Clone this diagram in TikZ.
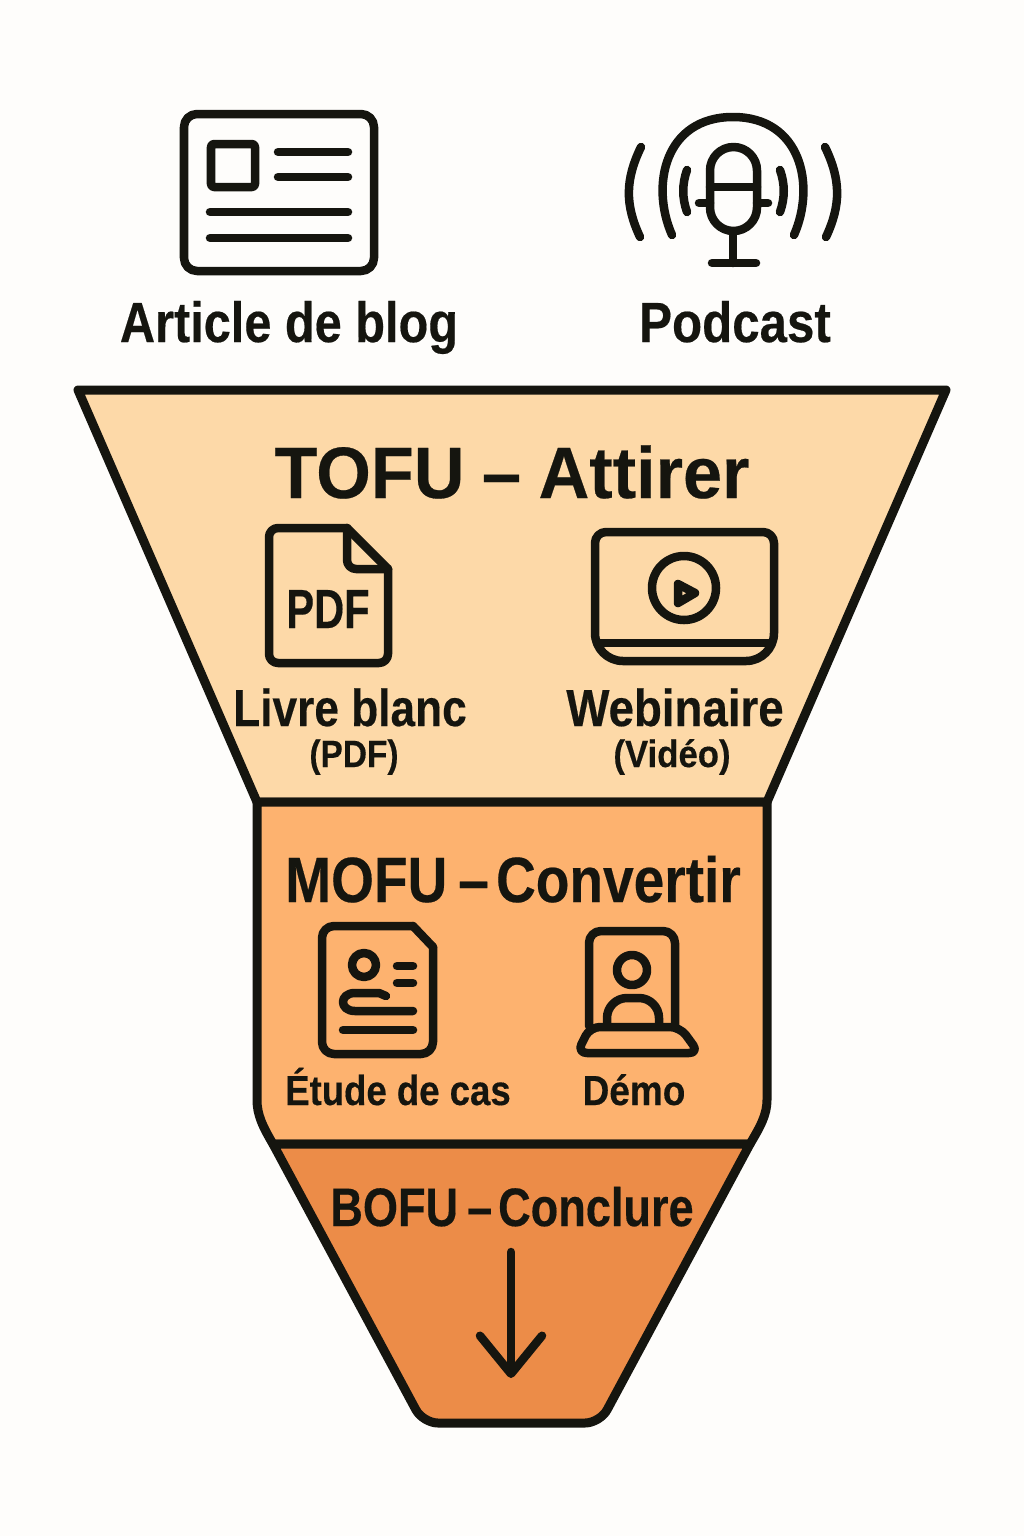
\documentclass[tikz,border=0pt]{standalone}
\usepackage{fontspec}
\setmainfont{Liberation Sans}[BoldFeatures={FakeBold=0.35}]
\usetikzlibrary{arrows.meta}
\definecolor{paper}{HTML}{FEFDFB}
\definecolor{ink}{HTML}{15150F}
\definecolor{tofucol}{HTML}{FDD9A8}
\definecolor{mofucol}{HTML}{FDB26F}
\definecolor{bofucol}{HTML}{EC8C48}
\tikzset{
  funnel/.style={draw=ink,line width=.09cm,line join=round},
  icon/.style={draw=ink,line width=.085cm,line cap=round,line join=round},
  lbl/.style 2 args={text=ink,inner sep=0pt,anchor=base,xscale=#2,
    font=\fontsize{#1}{#1}\selectfont\bfseries},
}
\begin{document}
\begin{tikzpicture}[x=.01cm,y=-.01cm]
\useasboundingbox (0,0) rectangle (1024,1536);
\fill[paper] (0,0) rectangle (1024,1536);

% Funnel, from top to bottom
\path[funnel,fill=tofucol] (78,390) -- (946,390) -- (767,802) -- (257,802) -- cycle;
\path[funnel,fill=mofucol] (257,802) -- (767,802) -- (767,1100)
  .. controls (767,1115) and (760,1127) .. (750,1144) -- (273,1144)
  .. controls (263,1127) and (257,1115) .. (257,1100) -- cycle;
\path[funnel,fill=bofucol] (273,1144) -- (750,1144) [rounded corners=.15cm] -- (600,1423)
  -- (423,1423) [sharp corners] -- cycle;

% Article icon
\draw[icon,rounded corners=.13cm] (184,114) rectangle (374,271);
\draw[icon,rounded corners=.03cm] (211,144) rectangle (255,187);
\draw[icon] (278,152) -- (348,152);
\draw[icon] (278,177) -- (348,177);
\draw[icon] (210,212) -- (348,212);
\draw[icon] (210,238) -- (348,238);

% Podcast icon
\draw[icon,rounded corners=.235cm] (710,147) rectangle (757,231);
\draw[icon] (710,187) -- (757,187);
\draw[icon] (699,203) -- (710,203);
\draw[icon] (757,203) -- (768,203);
\draw[icon] (733,233) -- (733,263);
\draw[icon] (712,263) -- (756,263);
\draw[icon] (687,170) .. controls (682,184) and (682,198) .. (687,212);
\draw[icon] (780,170) .. controls (785,184) and (785,198) .. (780,212);
\draw[icon] (672,235) .. controls (650,185) and (665,117) .. (733,117)
  .. controls (801,117) and (816,185) .. (794,235);
\draw[icon] (641,147) .. controls (625,180) and (625,205) .. (640,237);
\draw[icon] (825,147) .. controls (841,180) and (841,205) .. (826,237);

% PDF icon
\draw[icon,rounded corners=.09cm] (347,528) -- (269,528) -- (269,663) -- (388,663) -- (388,569);
\draw[icon] (347,528) -- (388,569);
\draw[icon,rounded corners=.09cm] (347,528) -- (347,569) -- (388,569);
\node[lbl={15.7}{.755}] (pdficon) at (328,628) {PDF};

% Webinar icon
\draw[icon] (598,643) -- (771,643);
\draw[icon,rounded corners=.11cm] (684,532) -- (595,532) [rounded corners=.28cm] -- (595,661)
  -- (774,661) [rounded corners=.11cm] -- (774,532) -- cycle;
\draw[icon] (684,588) circle (32);
\draw[icon] (678,584) -- (678,603) -- (695,593) -- cycle;

% Case study icon
\draw[icon,rounded corners=.12cm] (413,926) -- (322,926) -- (322,1054) -- (433,1054) -- (433,947);
\draw[icon] (413,926) -- (433,947);
\draw[icon] (364,965) circle (12);
\draw[icon] (397,966) -- (413,966);
\draw[icon] (397,983) -- (413,983);
\draw[icon] (386,996) -- (379,993) -- (355,993) .. controls (339,993) and (339,1011) .. (355,1011) -- (413,1011);
\draw[icon] (343,1030) -- (413,1030);

% Demo icon
\draw[icon,rounded corners=.12cm] (589,1026) -- (589,931) -- (675,931) -- (675,1026);
\draw[icon] (632,970) circle (15);
\draw[icon,rounded corners=.2cm] (607,1025) -- (607,998) -- (659,998) -- (659,1025);
\draw[icon,rounded corners=.1cm] (590,1027) -- (680,1027) -- (699,1053) -- (577,1053) -- cycle;

% Titles and labels
\node[lbl={16.1}{.86}] (article) at (289,342) {Article de blog};
\node[lbl={16.1}{.87}] (podcast) at (735,342) {Podcast};
\node[lbl={20.7}{.965}] (tofu) at (512,498) {TOFU\hspace{.25em}–\hspace{.25em}Attirer};
\node[lbl={14.8}{.85}] (livre) at (350,726) {Livre blanc};
\node[lbl={10.8}{.88}] (livrepdf) at (354,767) {(PDF)};
\node[lbl={14.8}{.877}] (webinaire) at (675,726) {Webinaire};
\node[lbl={10.8}{.915}] (video) at (672,767) {(Vidéo)};
\node[lbl={18.2}{.86}] (mofu) at (513,902) {MOFU\hspace{.2em}–\hspace{.13em}Convertir};
\node[lbl={11.95}{.87}] (etude) at (398,1105) {Étude de cas};
\node[lbl={11.95}{.88}] (demo) at (634,1105) {Démo};
\node[lbl={15.4}{.833}] (bofu) at (512,1226) {BOFU\hspace{.2em}–\hspace{.13em}Conclure};

% Arrow at the funnel's outlet
\coordinate (outtop) at (511,1252);
\coordinate (outtip) at (511,1378);
\draw[icon,-{Straight Barb[round,length=.38cm,width=.62cm]}] (outtop) -- (outtip);
\end{tikzpicture}
\end{document}
